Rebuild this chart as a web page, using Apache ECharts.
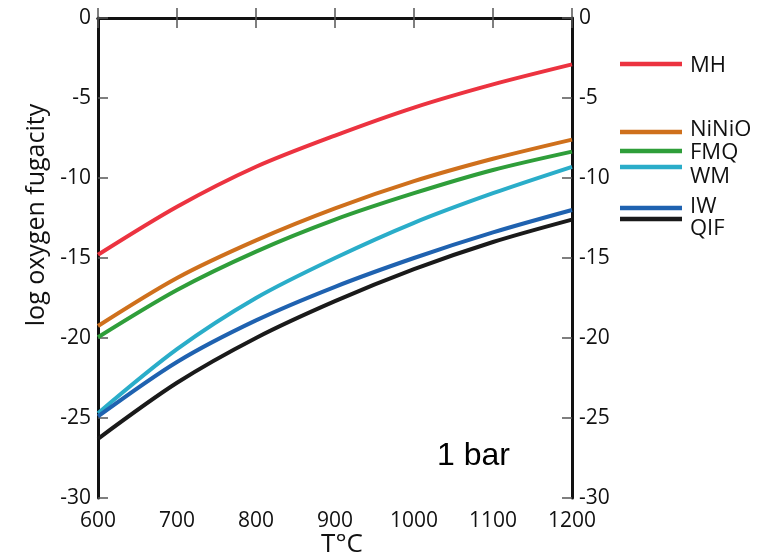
<!DOCTYPE html>
<html><head><meta charset="utf-8">
<script src="https://cdn.jsdelivr.net/npm/echarts@6/dist/echarts.min.js"></script>
<style>html,body{margin:0;padding:0;background:#fff}#c{width:762px;height:558px}</style>
</head><body><div id="c"></div>
<script>
const temps = [600, 700, 800, 900, 1000, 1100, 1200];
const MH    = [-14.8, -11.8, -9.3, -7.35, -5.6, -4.15, -2.9];
const NiNiO = [-19.25, -16.25, -13.9, -11.9, -10.2, -8.8, -7.6];
const FMQ   = [-19.95, -17.0, -14.6, -12.6, -10.95, -9.5, -8.35];
const WM    = [-24.7, -20.7, -17.5, -15.0, -12.8, -10.95, -9.3];
const IW    = [-24.9, -21.5, -18.9, -16.8, -15.0, -13.4, -12.0];
const QIF   = [-26.3, -22.8, -20.0, -17.7, -15.7, -14.0, -12.6];
const names = ['MH', 'NiNiO', 'FMQ', 'WM', 'IW', 'QIF'];
const colors = ['#ec3340', '#cf701c', '#2f9e3a', '#2aadc9', '#1f62b0', '#1a1a1a'];
const seriesData = [MH, NiNiO, FMQ, WM, IW, QIF];

const chart = echarts.init(document.getElementById('c'));
const font = '"Open Sans", "Noto Sans", sans-serif';
const axisCommon = {
  axisLine: {show: true, lineStyle: {color: '#111', width: 3}},
  axisTick: {show: true, inside: true, length: 10, lineStyle: {color: '#555', width: 1.5}},
  splitLine: {show: false},
  axisLabel: {color: '#111', fontSize: 21, fontFamily: font, formatter: v => String(v)}
};
// legend positions (line y, text y)
const legY = [64, 132, 151, 167, 208, 219];
const legTextY = [66, 130, 153, 177, 207, 229];
const graphics = [];
names.forEach((n, i) => {
  graphics.push({type: 'line', shape: {x1: 620, y1: legY[i], x2: 682, y2: legY[i]},
    style: {stroke: colors[i], lineWidth: 4.5}});
  graphics.push({type: 'text', x: 690, y: legTextY[i],
    style: {text: n, fill: '#111', fontSize: 22, fontFamily: font, verticalAlign: 'middle'}});
});
graphics.push({type: 'text', x: 37, y: 215, rotation: Math.PI / 2,
  style: {text: 'log oxygen fugacity', fill: '#111', fontSize: 25, fontFamily: font,
    align: 'center', verticalAlign: 'middle'}});
graphics.push({type: 'text', x: 437, y: 456,
  style: {text: '1 bar', fill: '#000', fontSize: 32, verticalAlign: 'middle',
    fontFamily: '"Liberation Sans", Arial, sans-serif'}});
graphics.push({type: 'text', x: 342, y: 545,
  style: {text: 'T°C', fill: '#111', fontSize: 26, align: 'center', verticalAlign: 'middle',
    fontFamily: font}});

chart.setOption({
  animation: false,
  backgroundColor: '#fff',
  grid: {left: 98, right: 190, top: 18, bottom: 60},
  xAxis: [
    Object.assign({}, axisCommon, {
      type: 'value', min: 600, max: 1200, interval: 100, position: 'bottom',
      axisLabel: Object.assign({}, axisCommon.axisLabel, {margin: 13})
    }),
    Object.assign({}, axisCommon, {
      type: 'value', min: 600, max: 1200, interval: 100, position: 'top',
      axisLabel: {show: false}
    })
  ],
  yAxis: [
    Object.assign({}, axisCommon, {type: 'value', min: -30, max: 0, interval: 5, position: 'left',
      axisLabel: Object.assign({}, axisCommon.axisLabel, {margin: 7})}),
    Object.assign({}, axisCommon, {type: 'value', min: -30, max: 0, interval: 5, position: 'right',
      axisLabel: Object.assign({}, axisCommon.axisLabel, {margin: 7})})
  ],
  graphic: graphics,
  series: names.map((n, i) => ({
    name: n, type: 'line', smooth: 0.3, showSymbol: false, symbol: 'none',
    xAxisIndex: 0, yAxisIndex: 0,
    lineStyle: {color: colors[i], width: 4},
    data: temps.map((t, j) => [t, seriesData[i][j]])
  }))
});
</script></body></html>
